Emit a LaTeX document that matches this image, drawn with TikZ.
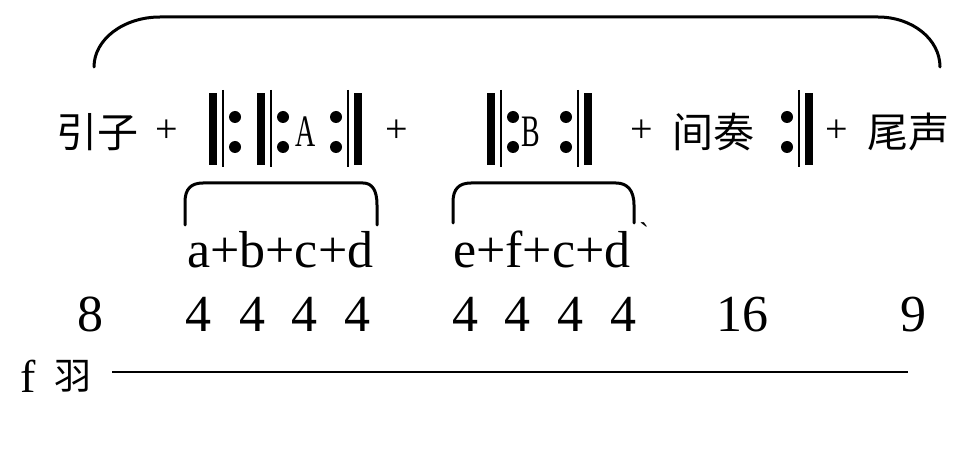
\documentclass[tikz,border=0pt]{standalone}
\usepackage{fontspec}
\usepackage{graphicx}
\setmainfont{Liberation Serif}
\newfontfamily\cjk{Noto Sans CJK SC}
\usetikzlibrary{positioning}

\begin{document}
\begin{tikzpicture}[x=1pt,y=-1pt,
    lat/.style={inner sep=0pt,font=\fontsize{52}{60}\selectfont},
    han/.style={inner sep=0pt,font=\cjk\fontsize{41}{48}\selectfont},
    plussign/.style={inner sep=0pt,font=\fontsize{40}{46}\selectfont},
    letter/.style={inner sep=0pt,font=\fontsize{45}{50}\selectfont},
    arcline/.style={line width=3pt,line cap=round}]
  % page is 963 x 454 px, y runs downwards
  \fill[white] (0,0) rectangle (963,454);
  \useasboundingbox (0,0) rectangle (963,454);

  % bracket over the whole form
  \draw[arcline] (94,67) .. controls (94,39) and (124,17) .. (160,17)
    -- (878,17) .. controls (912,17) and (940,39) .. (940,67);

  % top row: sections and plus signs
  \node[han] (intro) at (97,132) {引子};
  \node[han] (inter) at (713,132) {间奏};
  \node[han] (coda)  at (908,132) {尾声};
  \foreach \x [count=\i] in {167,397,642,837}
    \node[plussign] (plus\i) at (\x,131) {+};
  \node[letter] (seca) at (306,132) {\scalebox{0.62}[1]{A}};
  \node[letter] (secb) at (531,132) {\scalebox{0.62}[1]{B}};

  % repeat signs: thick bar at x, thin bar, then dots
  \foreach \x in {209,257,487}{
    \fill (\x,93) rectangle +(8,72);
    \draw[line width=2pt] (\x+14,90) -- +(0,77);
    \fill (\x+26,117) circle (6pt) (\x+26,147) circle (6pt);
  }
  % end repeats: x is the right edge of the thick bar
  \foreach \x in {362,592,813}{
    \fill (\x,93) rectangle +(-8,72);
    \draw[line width=2pt] (\x-14,90) -- +(0,77);
    \fill (\x-26,117) circle (6pt) (\x-26,147) circle (6pt);
  }

  % small brackets over the phrases
  \draw[arcline] (185,225) -- (185,202) .. controls (185,189) and (191,183) .. (203,183)
    -- (363,183) .. controls (372,183) and (377,190) .. (377,205) -- (377,225);
  \draw[arcline] (453,223) -- (453,202) .. controls (453,189) and (459,183) .. (471,183)
    -- (616,183) .. controls (627,183) and (634,190) .. (634,205) -- (634,223);

  % phrases
  \node[lat,anchor=base west] (phra) at (187,268) {a+b+c+d};
  \node[lat,anchor=base west] (phrb) at (453,268) {e+f+c+d};
  \node[inner sep=0pt,font=\fontsize{30}{36}\selectfont,anchor=north west] (tick)
    at (639,222) {\textasciigrave};

  % bar counts
  \foreach \t/\x [count=\i] in {8/90,4/198,4/252,4/304,4/357,4/465,4/517,4/570,4/623,16/742,9/913}
    \node[lat,anchor=base] (len\i) at (\x,331) {\t};

  % key line
  \node[lat,font=\fontsize{46}{54}\selectfont,anchor=base west] (key) at (20,392) {f};
  \node[han,font=\cjk\fontsize{37}{44}\selectfont,right=19pt of key.east,anchor=west] (yu) {羽};
  \coordinate (linestart) at (112,372);
  \coordinate (lineend) at (908,372);
  \draw[line width=2pt] (linestart) -- (lineend);
\end{tikzpicture}
\end{document}
